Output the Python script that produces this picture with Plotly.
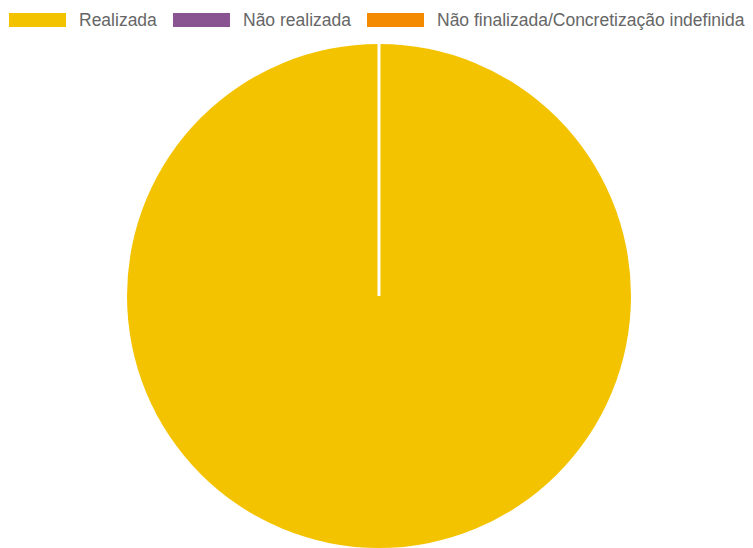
import plotly.graph_objects as go

# Data
labels = ["Realizada", "Não realizada", "Não finalizada/Concretização indefinida"]
values = [100, 0, 0]
colors = ["#F4C300", "#8A5391", "#F48A00"]

W, H = 753, 548

def px(x):
    return x / W

def py(y):
    return 1 - y / H

# Pie geometry (pixels)
cx, radius = 379, 252
top = H - 2 * radius  # pie fits in the lower part of the figure

fig = go.Figure()
fig.add_trace(go.Pie(
    labels=labels,
    values=values,
    marker=dict(colors=colors, line=dict(color="white", width=0)),
    sort=False,
    direction="clockwise",
    rotation=0,
    textinfo="none",
    hoverinfo="label+value",
    showlegend=False,
    domain=dict(x=[px(cx - radius), px(cx + radius)], y=[0, (2 * radius) / H]),
))

shapes = []
annotations = []

# Slice separator at 12 o'clock
shapes.append(dict(
    type="line", xref="paper", yref="paper",
    x0=px(cx), x1=px(cx), y0=py(top + radius), y1=py(top),
    line=dict(color="white", width=3),
))

# Custom legend (wide swatches like the reference)
swatch_x = [9, 173, 367]
swatch_w, swatch_h = 57, 14
swatch_top = 13
for lab, col, sx in zip(labels, colors, swatch_x):
    shapes.append(dict(
        type="rect", xref="paper", yref="paper",
        x0=px(sx), x1=px(sx + swatch_w),
        y0=py(swatch_top + swatch_h), y1=py(swatch_top),
        fillcolor=col, line=dict(width=0),
    ))
    annotations.append(dict(
        text=lab, xref="paper", yref="paper",
        x=px(sx + swatch_w + 11), y=py(swatch_top + swatch_h / 2),
        xanchor="left", yanchor="middle", showarrow=False,
        font=dict(family="Liberation Sans, Arial, sans-serif", size=17.5, color="#666666"),
    ))

fig.update_layout(
    width=W, height=H,
    margin=dict(l=0, r=0, t=0, b=0),
    paper_bgcolor="white",
    plot_bgcolor="white",
    shapes=shapes,
    annotations=annotations,
    showlegend=False,
)

fig.write_html(
    "out.html",
    config={"displayModeBar": False},
    post_script="document.body.style.margin='0';document.body.style.overflow='hidden';",
)
